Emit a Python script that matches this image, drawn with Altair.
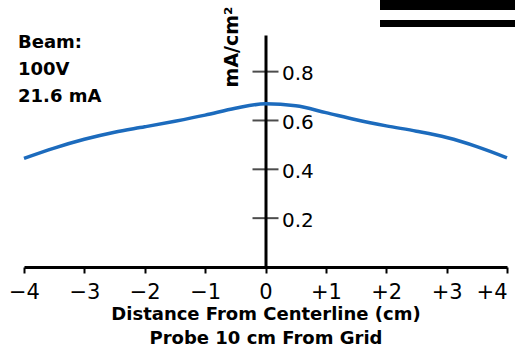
import altair as alt
import pandas as pd

# Data
distance_cm = [-4, -3.5, -3, -2.5, -2, -1.5, -1, -0.5, 0, 0.5, 1, 1.5, 2, 2.5, 3, 3.5, 4]
density = [0.445, 0.487, 0.523, 0.552, 0.574, 0.597, 0.622, 0.65, 0.668, 0.66,
           0.632, 0.603, 0.578, 0.556, 0.53, 0.493, 0.447]
x_ticks = [-4, -3, -2, -1, 0, 1, 2, 3, 4]
y_ticks = [0.2, 0.4, 0.6, 0.8]
beam_lines = ["Beam:", "100V", "21.6 mA"]
x_title = ["Distance From Centerline (cm)", "Probe 10 cm From Grid"]
y_title = "mA/cm²"

df = pd.DataFrame({"d": distance_cm, "v": density})
ticks_df = pd.DataFrame({"y": y_ticks})
one = pd.DataFrame({"k": [0]})

xs = alt.Scale(domain=[-4, 4], nice=False, zero=False)
ys = alt.Scale(domain=[0, 0.95], nice=False, zero=False)

x_axis = alt.Axis(
    values=x_ticks, title=x_title, grid=False, format="d",
    domainColor="black", domainWidth=3, tickColor="black", tickWidth=2, tickSize=6,
    labelFont="DejaVu Sans", labelFontSize=21, labelColor="black", labelPadding=8,
    labelFlush=False, labelOverlap=False,
    labelAlign={"condition": {"test": "datum.value == 4", "value": "right"}, "value": "center"},
    labelExpr="datum.value > 0 ? '+' + datum.label : datum.label",
    titleFont="DejaVu Sans", titleFontWeight="bold", titleFontSize=18, titleColor="black",
    titleLineHeight=24, titleX=241.5, titleY=52, titleBaseline="alphabetic", titleAlign="center",
)
y_axis = alt.Axis(
    orient="right", offset=-241.5, values=y_ticks, title=None, grid=False,
    domainColor="black", domainWidth=3, ticks=False,
    labelFont="DejaVu Sans", labelFontSize=20, labelColor="black", labelPadding=16,
    labelOffset=2, labelFlush=False,
)

line = alt.Chart(df).mark_line(color="#1c6bbd", strokeWidth=3.5, interpolate="monotone").encode(
    x=alt.X("d:Q", scale=xs, axis=x_axis),
    y=alt.Y("v:Q", scale=ys, axis=y_axis),
)

yticks = alt.Chart(ticks_df).mark_tick(orient="horizontal", size=26, thickness=2, color="black").encode(
    x=alt.datum(0, scale=xs),
    y=alt.Y("y:Q", scale=ys),
)

beam = alt.Chart(one).mark_text(
    text=beam_lines, align="left", baseline="alphabetic", font="DejaVu Sans",
    fontWeight="bold", fontSize=18, lineHeight=27, color="black",
).encode(x=alt.value(-6), y=alt.value(13))

ytitle = alt.Chart(one).mark_text(
    text=y_title, angle=270, align="center", baseline="alphabetic", font="DejaVu Sans",
    fontWeight="bold", fontSize=19, color="black",
).encode(x=alt.value(214), y=alt.value(12))

bar1 = alt.Chart(one).mark_rect(color="black").encode(
    x=alt.value(356), x2=alt.value(491), y=alt.value(-35), y2=alt.value(-25))
bar2 = alt.Chart(one).mark_rect(color="black").encode(
    x=alt.value(356), x2=alt.value(491), y=alt.value(-15), y2=alt.value(-8))

chart = alt.layer(line, yticks, beam, ytitle, bar1, bar2).properties(
    width=483, height=232,
    autosize=alt.AutoSizeParams(type="none"),
    padding={"left": 24, "top": 35, "right": 8, "bottom": 87},
    background="white",
).configure_view(stroke="transparent")

chart.save("out.html", embed_options={"renderer": "svg", "actions": False})
